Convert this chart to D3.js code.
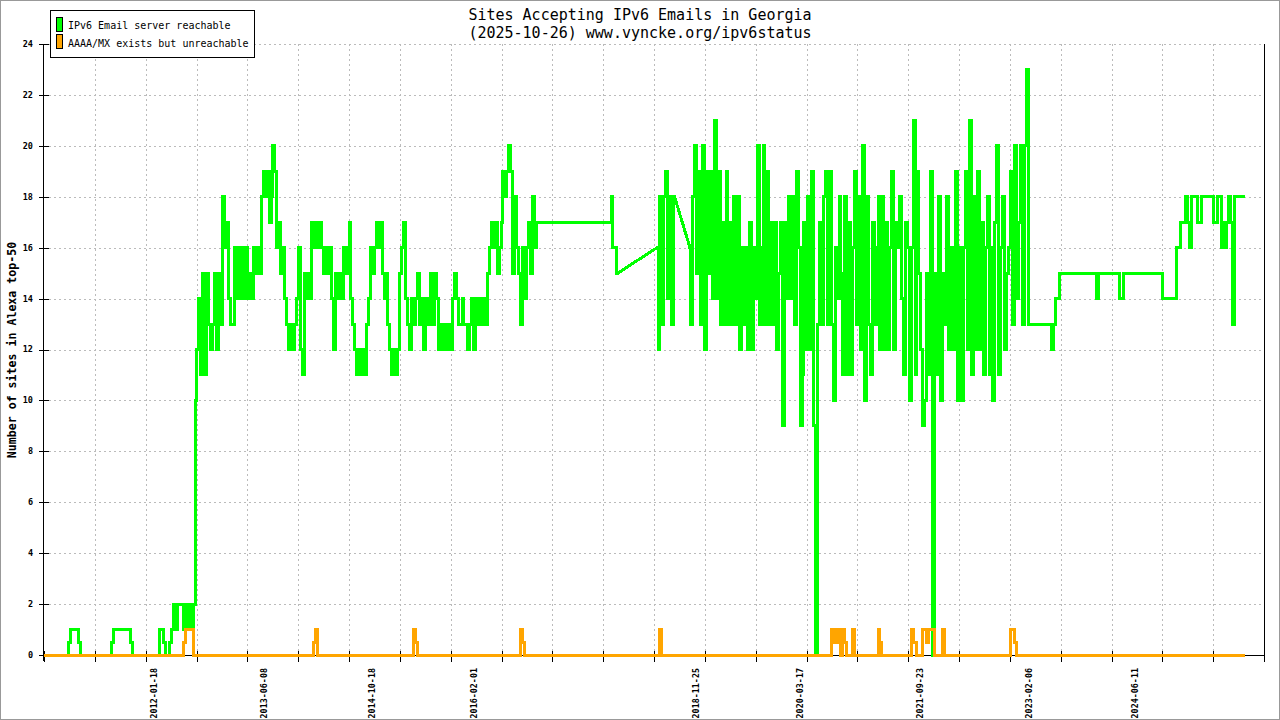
<!DOCTYPE html>
<html><head><meta charset="utf-8">
<script src="https://cdn.jsdelivr.net/npm/d3@7"></script>
<style>body{margin:0;background:#fff}svg{display:block}</style>
</head><body><svg id="chart" width="1280" height="720"></svg>
<script>
// ---------------- data ----------------
const titleLines = ["Sites Accepting IPv6 Emails in Georgia", "(2025-10-26) www.vyncke.org/ipv6status"];
const yAxisTitle = "Number of sites in Alexa top-50";
const seriesNames = ["IPv6 Email server reachable", "AAAA/MX exists but unreachable"];
const seriesColors = ["#00ff00", "#ffa500"];
const xDomain = ["2010-08-26", "2026-01-28"];
const yTicks = [0, 2, 4, 6, 8, 10, 12, 14, 16, 18, 20, 22, 24];
const xLabelDates = ["2012-01-18", "2013-06-08", "2014-10-18", "2016-02-01", "2018-11-25", "2020-03-17", "2021-09-23", "2023-02-06", "2024-06-11"];
const sampleStepDays = 9;
const runStarts = ["2010-09-04", "2017-10-22", "2018-05-27", "2018-10-26"];
// reachable (green) samples, one run per start date
const reachable1 = [
 0,0,0,0,0,0,0,0,0,0,
 0,0,0.5,1,1,1,1,0.5,0,0,
 0,0,0,0,0,0,0,0,0,0,
 0,0,0,0,0.5,1,1,1,1,1,
 1,1,1,1,0.5,0,0,0,0,0,
 0,0,0,0,0,0,0,0,0,1,
 1,0.5,0,0,0.5,1,2,1,2,2,
 2,1,2,1,2,1,2,10,12,14,
 11,15,11,15,13,12,13,15,12,15,
 13,18,16,17,14,13,13,16,14,16,
 14,16,14,16,14,15,14,16,15,16,
 15,18,19,18,19,17,18,20,19,16,
 17,15,16,14,13,12,13,12,13,14,
 16,12,11,15,14,15,14,17,16,17,
 16,17,16,15,16,15,16,14,12,15,
 14,15,14,16,15,16,17,14,13,12,
 11,12,11,12,11,13,14,16,15,16,
 17,16,17,15,14,15,13,12,11,12,
 11,12,15,16,17,14,13,12,14,13,
 14,15,13,14,12,13,14,13,15,13,
 15,14,12,13,12,13,12,13,12,14,
 15,14,13,13,14,13,13,12,13,14,
 12,14,13,14,13,14,13,15,16,17,
 16,17,15,16,17,19,18,19,20,19,
 15,18,16,15,13,16,14,16,17,15,
 18,16,17
];
const reachable2 = [17, 18, 16, 16, 15];
const reachable3 = [16, 12, 18, 13, 18, 19, 14, 18, 13, 18];
const reachable4 = [
 16,13,18,20,15,19,13,20,12,19,
 15,19,14,21,14,19,13,17,13,19,
 13,17,13,18,13,18,12,16,13,16,
 12,17,12,16,14,20,13,16,20,13,
 19,13,17,13,17,12,15,17,9,17,
 14,18,14,18,13,19,16,9,11,17,
 12,18,12,19,9,0,13,17,13,18,
 19,13,19,13,10,16,14,18,15,11,
 18,11,17,11,16,19,13,18,12,20,
 10,18,13,11,17,13,16,18,12,18,
 12,17,12,16,19,12,17,16,18,14,
 11,17,16,10,16,21,11,19,15,12,
 9,10,15,11,19,0,15,11,18,10,
 15,13,18,12,16,12,16,19,10,16,
 10,16,19,12,21,11,18,12,19,12,
 17,11,16,18,11,16,10,17,20,11,
 16,18,12,15,16,19,13,20,14,17,
 20,13,20,23,13,13,13,13,13,13,
 13,13,13,13,13,13,12,13,14,14,
 15,15,15,15,15,15,15,15,15,15,
 15,15,15,15,15,15,15,15,15,14,
 15,15,15,15,15,15,15,15,15,15,
 15,14,14,15,15,15,15,15,15,15,
 15,15,15,15,15,15,15,15,15,15,
 15,15,15,14,14,14,14,14,14,14,
 16,16,17,17,17,18,17,16,18,18,
 18,17,17,18,18,18,18,18,18,17,
 17,18,18,16,17,16,17,18,17,13,
 18,18,18,18,18
];
// unreachable (orange): 0 everywhere except these samples [run, sample index, value]
const unreachableSpikes = [
 [0,71,0.5],[0,72,1],[0,73,1],[0,74,1],[0,75,1],
 [0,138,0.5],[0,139,1],
 [0,189,1],[0,190,0.5],
 [0,244,1],[0,245,0.5],
 [2,2,1],
 [3,73,1],[3,74,0.5],[3,75,1],[3,76,0.5],[3,77,1],[3,79,1],[3,80,0.5],[3,84,1],
 [3,97,1],[3,98,0.5],
 [3,114,1],[3,115,0.5],[3,116,0.5],
 [3,120,1],[3,121,1],[3,122,0.5],[3,123,1],[3,124,1],[3,125,1],
 [3,130,1],
 [3,165,1],[3,166,1],[3,167,0.5]
];

// ---------------- chart ----------------
const MONO = "'DejaVu Sans Mono','Liberation Mono',monospace";
const svg = d3.select("#chart");
const parse = d3.utcParse("%Y-%m-%d");
const x = d3.scaleUtc().domain(xDomain.map(parse)).range([44, 1264]);
const y = d3.scaleLinear().domain([0, 24]).range([655, 44]);

const reachableRuns = [reachable1, reachable2, reachable3, reachable4];
const spikeMap = new Map(unreachableSpikes.map(([r, k, v]) => [r + ":" + k, v]));
const dateOf = (r, k) => d3.utcDay.offset(parse(runStarts[r]), k * sampleStepDays);
const reachableByRun = reachableRuns.map((vals, r) => vals.map((v, k) => ({date: dateOf(r, k), value: v})));
const unreachableByRun = reachableRuns.map((vals, r) => vals.map((_, k) => ({date: dateOf(r, k), value: spikeMap.has(r + ":" + k) ? spikeMap.get(r + ":" + k) : 0})));

// outer border
svg.append("rect").attr("x", 0.5).attr("y", 0.5).attr("width", 1279).attr("height", 719)
  .attr("fill", "#fff").attr("stroke", "#999").attr("stroke-width", 1);

// grid
const [d0, d1] = x.domain();
const gridDates = d3.range(0, 25).map(k => new Date(+d0 + k * (d1 - d0) / 24));
const grid = svg.append("g").attr("stroke", "#bbb").attr("stroke-dasharray", "2,3").attr("shape-rendering", "crispEdges");
grid.selectAll("line.h").data(yTicks.filter(t => t > 0)).join("line")
  .attr("x1", x.range()[0]).attr("x2", x.range()[1])
  .attr("y1", d => Math.round(y(d)) + 0.5).attr("y2", d => Math.round(y(d)) + 0.5);
grid.selectAll("line.v").data(gridDates.slice(1, 24)).join("line")
  .attr("x1", d => Math.round(x(d)) + 0.5).attr("x2", d => Math.round(x(d)) + 0.5)
  .attr("y1", y(24)).attr("y2", y(0));

// axes (drawn beneath the series, as in the reference)
const ax = svg.append("g").attr("stroke", "#000").attr("shape-rendering", "crispEdges");
const x0 = Math.round(x.range()[0]) - 0.5, x1 = Math.round(x.range()[1]) + 0.5, yb = Math.round(y(0)) + 0.5;
ax.append("line").attr("x1", x0).attr("x2", x0).attr("y1", y(24)).attr("y2", 661);
ax.append("line").attr("x1", x1).attr("x2", x1).attr("y1", y(24)).attr("y2", 661);
ax.append("line").attr("x1", x0).attr("x2", x1).attr("y1", yb).attr("y2", yb);
ax.selectAll("line.yt").data(yTicks).join("line")
  .attr("x1", x0 - 5).attr("x2", x0 + 5)
  .attr("y1", d => Math.round(y(d)) + 0.5).attr("y2", d => Math.round(y(d)) + 0.5);
ax.selectAll("line.xt").data(gridDates).join("line")
  .attr("x1", d => Math.round(x(d)) + 0.5).attr("x2", d => Math.round(x(d)) + 0.5)
  .attr("y1", yb - 5).attr("y2", yb + 6);

// series lines: step within each sampling run, straight connectors between runs
const stepLine = d3.line().x(d => x(d.date)).y(d => y(d.value)).curve(d3.curveStep);
const straight = d3.line().x(d => x(d.date)).y(d => y(d.value));
function drawSeries(runs, color) {
  const g = svg.append("g").attr("fill", "none").attr("stroke", color).attr("stroke-width", 3)
    .attr("stroke-linejoin", "miter").attr("shape-rendering", "crispEdges");
  runs.forEach((run, r) => {
    g.append("path").datum(run).attr("d", stepLine).attr("stroke-linecap", "square");
    if (r > 0) g.append("path").datum([runs[r - 1][runs[r - 1].length - 1], run[0]])
      .attr("d", straight).attr("stroke-linecap", "butt");
  });
}
drawSeries(reachableByRun, seriesColors[0]);
drawSeries(unreachableByRun, seriesColors[1]);

// y tick labels
svg.append("g").selectAll("text").data(yTicks).join("text")
  .attr("x", 33).attr("y", d => y(d)).attr("dy", "0.35em")
  .attr("text-anchor", "end").attr("font-family", MONO).attr("font-size", 8.5)
  .attr("font-weight", "bold").text(d => d);

// x tick labels
svg.append("g").selectAll("text").data(xLabelDates).join("text")
  .attr("transform", d => `translate(${x(parse(d))},668) rotate(-90)`)
  .attr("dy", "0.35em").attr("text-anchor", "end")
  .attr("font-family", MONO).attr("font-size", 8.4).attr("font-weight", "bold").text(d => d);

// y axis title
svg.append("text").attr("transform", "translate(16,350) rotate(-90)")
  .attr("text-anchor", "middle").attr("font-family", MONO).attr("font-size", 11.6)
  .attr("font-weight", "bold").text(yAxisTitle);

// title
svg.append("g").selectAll("text").data(titleLines).join("text")
  .attr("x", 640).attr("y", (d, i) => 19.5 + i * 18).attr("text-anchor", "middle")
  .attr("font-family", MONO).attr("font-size", 15).text(d => d);

// legend
const lg = svg.append("g");
lg.append("rect").attr("x", 50.5).attr("y", 10.5).attr("width", 204).attr("height", 47)
  .attr("fill", "#fff").attr("stroke", "#000").attr("shape-rendering", "crispEdges");
seriesNames.forEach((name, i) => {
  lg.append("rect").attr("x", 56.5).attr("y", 17.5 + i * 17.3).attr("width", 6).attr("height", 14)
    .attr("fill", seriesColors[i]).attr("stroke", "#000").attr("shape-rendering", "crispEdges");
  lg.append("text").attr("x", 68).attr("y", 29.3 + i * 17.3).attr("font-family", MONO)
    .attr("font-size", 10).text(name);
});
</script>
</body></html>
